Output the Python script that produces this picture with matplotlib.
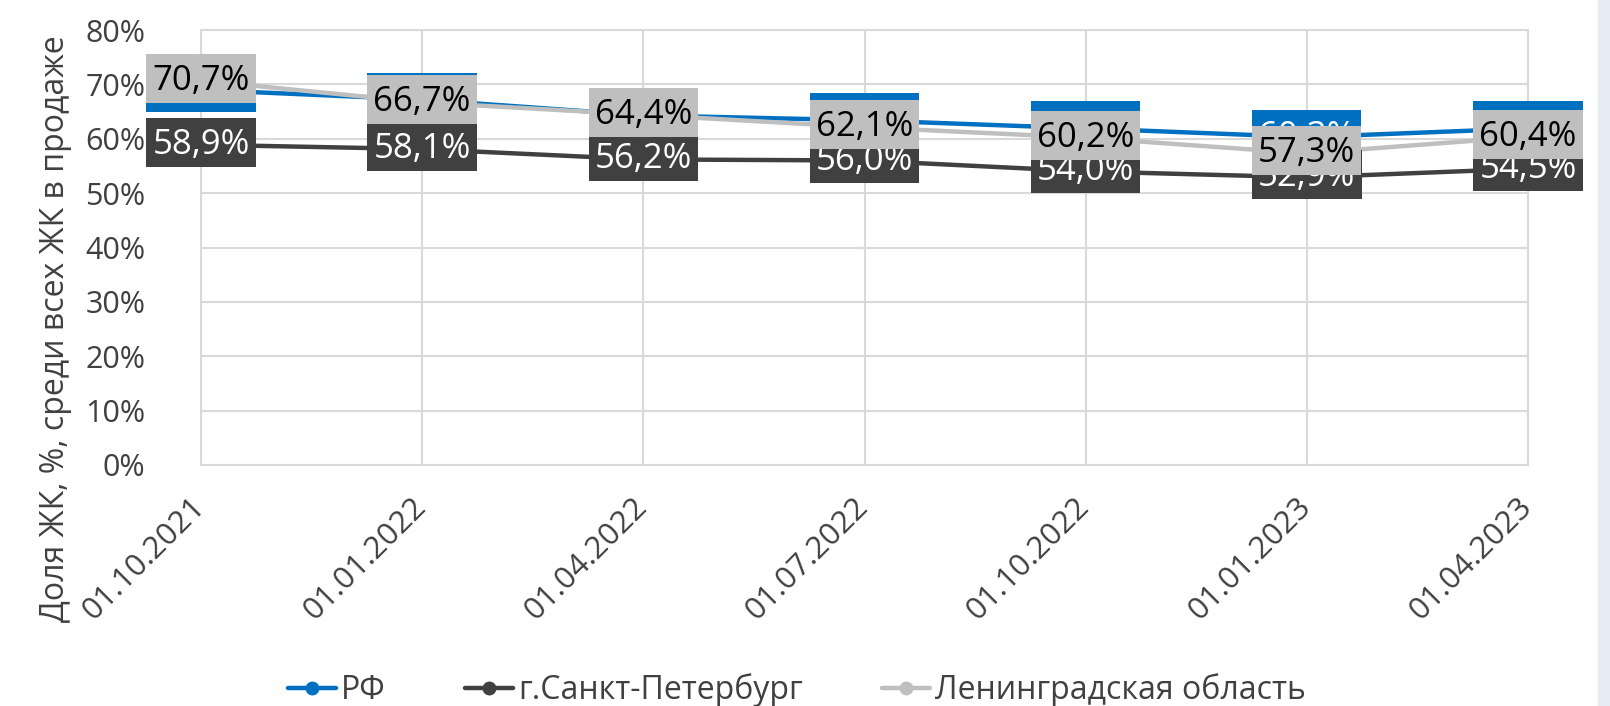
import matplotlib
matplotlib.use("Agg")
import matplotlib.pyplot as plt
from matplotlib.patches import Rectangle
from matplotlib.path import Path
from matplotlib.transforms import ScaledTranslation

plt.rcParams['font.family'] = ['Open Sans', 'DejaVu Sans']

categories = ["01.10.2021", "01.01.2022", "01.04.2022", "01.07.2022",
              "01.10.2022", "01.01.2023", "01.04.2023"]
rf = [69.0, 67.2, 64.3, 63.4, 61.9, 60.3, 61.9]
spb = [58.9, 58.1, 56.2, 56.0, 54.0, 52.9, 54.5]
lo = [70.7, 66.7, 64.4, 62.1, 60.2, 57.3, 60.4]
series_names = ["РФ", "г.Санкт-Петербург", "Ленинградская область"]
y_ticks = [0, 10, 20, 30, 40, 50, 60, 70, 80]
y_label = "Доля ЖК, %, среди всех ЖК в продаже"

colors = ["#0070C0", "#404040", "#BFBFBF"]
text_colors = ["white", "white", "black"]
grid_c = "#D9D9D9"
tick_c = "#404040"


def label_box(x0, y0, width, height, mutation_size, padx=6, pad_top=10, pad_bottom=5):
    xa = x0 - padx
    xb = x0 + width + padx
    ya = y0 - pad_bottom
    yb = y0 + height + pad_top
    return Path([(xa, ya), (xb, ya), (xb, yb), (xa, yb), (xa, ya)], closed=True)


fig = plt.figure(figsize=(16.10, 7.06), dpi=100)
fig.patches.append(Rectangle((1598/1610, 0), 12/1610, 1, transform=fig.transFigure,
                             color="#E7EBF3", zorder=0))
ax = fig.add_axes([201/1610, 1-465/706, 1327/1610, 435/706])

x = list(range(len(categories)))
for i, (vals, name) in enumerate(zip([rf, spb, lo], series_names)):
    ax.plot(x, vals, color=colors[i], lw=3.2, marker='o', markersize=9,
            label=name, zorder=3 + i, solid_capstyle='round')
for i, vals in enumerate([rf, spb, lo]):
    for xi, v in zip(x, vals):
        t = ax.text(xi, v, f"{v:.1f}%".replace('.', ','), ha='center', va='center',
                    fontsize=25, color=text_colors[i], zorder=10 + i,
                    bbox=dict(fc=colors[i], ec='none'))
        t.get_bbox_patch().set_boxstyle(label_box)

ax.set_xlim(0, len(categories) - 1)
ax.set_ylim(0, 80)
ax.set_yticks(y_ticks)
ax.set_yticklabels([f"{t}%" for t in y_ticks], fontsize=22, color=tick_c)
ax.set_xticks(x)
ax.set_xticklabels(categories, fontsize=22.5, color=tick_c, rotation=45,
                   ha='right', va='top', rotation_mode='default')
ax.tick_params(axis='both', length=0)
ax.tick_params(axis='x', pad=19)
ax.tick_params(axis='y', pad=40)
for lbl in ax.get_xticklabels():
    lbl.set_transform(lbl.get_transform() + ScaledTranslation(10/100, 0, fig.dpi_scale_trans))
ax.grid(True, color=grid_c, lw=1.5, zorder=0)
ax.set_axisbelow(True)
for s in ax.spines.values():
    s.set_color(grid_c)
    s.set_linewidth(1.5)

fig.text(56/1610, 1-329/706, y_label, rotation=90, ha='center', va='center',
         fontsize=23, color=tick_c)

leg = fig.legend(loc='center', bbox_to_anchor=(0.495, 1-690/706), ncol=3,
                 frameon=False, fontsize=23, handlelength=1.5, columnspacing=2.5,
                 handletextpad=0.15, labelcolor=tick_c)

fig.savefig("out.png", dpi=100)
